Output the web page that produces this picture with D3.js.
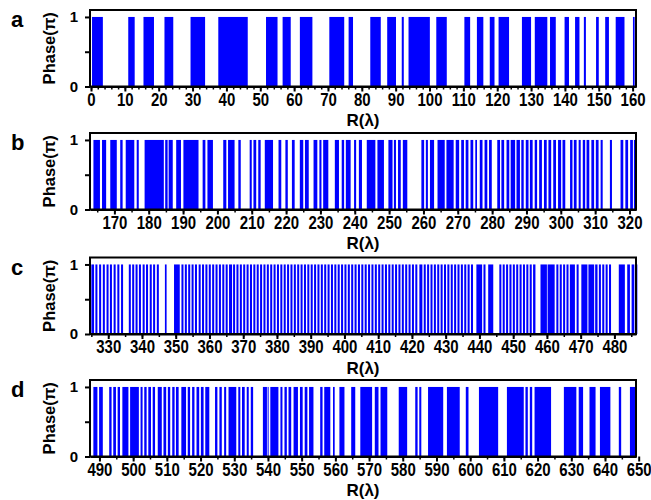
<!DOCTYPE html>
<html>
<head>
<meta charset="utf-8">
<script src="https://cdn.jsdelivr.net/npm/d3@7"></script>
<style>
  body { margin: 0; background: #fff; }
  text { font-family: "Liberation Sans", Arial, sans-serif; font-weight: bold; fill: #000; }
</style>
</head>
<body>
<div id="container"></div>
<script>
// intervals of R (in λ) where the phase is π
const phaseA = [[0.3,3.5],[11,12.9],[15.5,18.6],[21.7,24.3],[29.4,33.7],[37.6,46.3],[51.7,55.1],[56.6,59.0],[61.7,65.4],[70.4,74.8],[76.1,77.4],[82.5,85.6],[87.5,90.1],[91.8,92.4],[93.8,100.1],[102.0,105.1],[110.3,112.0],[114.0,115.9],[117.8,119.2],[120.4,123.5],[127.3,130.0],[131.1,134.8],[135.6,137.3],[139.9,141.2],[143.0,144.3],[145.6,146.2],[149.2,150.0],[151.9,153.0],[155.0,157.6],[160.1,160.6]];

const phaseB = [[163.9,165.8],[166.4,167.6],[168.8,170.7],[171.7,172.4],[173.3,175.8],[176.5,177.1],[178.8,184.4],[184.8,185.5],[185.8,187.0],[188.0,189.4],[190.1,194.5],[195.7,196.5],[197.1,198.7],[201.7,202.6],[203.1,205.0],[206.1,206.8],[209.4,210.0],[210.5,211.3],[211.9,212.6],[213.8,216.2],[217.8,218.6],[219.8,220.5],[221.7,222.5],[224.0,225.0],[225.5,226.6],[228.0,229.1],[229.7,230.3],[230.8,232.3],[234.2,235.4],[236.2,236.9],[237.4,238.8],[239.8,240.4],[241.2,242.1],[243.5,246.0],[246.6,248.5],[249.8,251.0],[251.4,252.0],[252.6,253.4],[254.0,255.3],[259.4,260.2],[260.7,261.3],[261.9,263.1],[264.1,266.2],[266.7,268.8],[269.4,270.4],[271.0,271.8],[272.3,273.1],[273.7,274.5],[275.1,275.6],[276.4,277.2],[277.8,278.6],[279.1,279.9],[281.5,282.3],[282.7,283.5],[284.2,285.0],[285.4,286.7],[287.1,288.1],[288.5,289.2],[289.8,290.6],[291.0,291.8],[292.4,293.1],[293.7,294.5],[295.1,295.9],[296.4,297.2],[297.8,298.6],[299.2,300.1],[300.5,301.3],[302.7,303.4],[303.8,304.6],[305.2,305.8],[306.4,307.1],[307.5,308.3],[308.9,309.7],[310.2,311.0],[311.6,312.2],[314.3,314.9],[317.4,318.2],[318.8,319.6],[320.2,321.0],[321.3,321.9]];

const phaseC = [[325.0,325.8],[326.2,326.8],[327.3,327.9],[328.4,329.0],[329.5,330.1],[330.5,331.1],[331.6,332.2],[332.7,333.3],[333.8,334.4],
  [336.1,336.7],[337.1,337.7],[338.1,338.7],[339.1,339.7],[340.2,340.8],[341.2,341.8],[342.3,342.9],[343.3,343.9],[344.4,345.0],
  [346.8,347.3],[349.5,351.2],
  [351.7,352.3],[352.7,353.3],[353.7,354.3],[354.7,355.3],[355.7,356.3],[356.8,357.4],[357.8,358.4],[358.8,359.4],[359.8,360.4],[360.8,361.4],
  [361.8,362.4],[362.8,363.4],[363.8,364.4],[364.8,365.4],[365.8,366.7],[367.0,367.6],[368.0,368.6],[369.0,369.6],[370.0,370.6],[371.0,371.6],
  [372.0,372.6],[373.0,373.6],[374.0,374.6],[375.0,375.6],[376.0,376.6],[377.0,377.6],[378.0,378.6],[379.0,379.6],[380.0,380.6],[381.0,381.6],
  [382.0,382.6],[383.0,383.6],[384.0,384.6],[385.0,385.6],[386.0,386.6],[387.0,387.6],[388.0,388.6],[389.0,389.6],[390.0,390.6],[391.0,391.6],
  [392.0,392.6],[393.0,393.6],[394.0,394.6],[395.0,395.6],[396.0,396.6],[397.0,397.6],[398.0,398.6],[399.0,399.6],[400.0,400.6],[401.0,401.6],
  [402.0,402.6],[403.0,403.6],[404.0,404.6],[405.0,405.6],[406.0,406.6],[407.0,407.6],[408.0,408.6],[409.0,409.6],[410.0,410.6],[411.0,411.6],
  [412.0,412.6],[413.0,413.6],[414.0,414.6],[415.0,415.6],[416.0,416.6],[417.0,417.6],[418.0,418.6],[419.0,419.6],[420.0,420.6],[421.0,421.6],
  [422.2,423.1],[423.5,424.1],[424.5,425.1],[425.5,426.1],[426.5,427.1],[427.5,428.1],[428.5,429.1],[429.5,430.1],[430.5,431.1],[431.5,432.1],
  [432.5,433.1],[433.5,434.1],[434.5,435.1],[435.5,436.1],[436.5,437.1],[437.5,438.1],[439.1,440.8],[441.2,441.8],[442.6,444.1],
  [445.9,446.5],[446.9,447.5],[447.9,448.5],[448.9,449.5],[449.9,450.5],[450.9,451.5],[451.9,452.5],[452.9,453.5],[453.9,454.5],[454.9,455.5],[455.9,456.6],
  [458.1,460.0],[460.2,462.3],
  [462.8,463.4],[463.8,464.4],[464.8,465.4],[465.8,466.4],[466.8,468.3],[468.8,469.4],[470.2,472.0],[472.3,474.0],[474.3,475.0],[475.4,476.0],
  [476.4,477.0],[477.4,478.0],[478.4,479.0],[481.3,483.1],[483.8,484.6],[485.1,485.9],[486.2,486.8]];

const phaseD = [[488.2,489.4],[489.9,491.0],[492.9,493.6],[494.1,494.9],[495.4,496.1],[496.8,498.6],[499.1,501.7],[502.2,502.8],[503.3,504.0],[504.5,505.3],
  [505.8,506.5],[507.3,508.5],[509.0,509.8],[510.3,511.0],[511.6,512.3],[512.7,513.5],[514.3,515.7],[516.2,516.9],[517.5,518.2],[518.8,519.6],
  [520.1,520.9],[521.4,522.6],[524.3,525.0],[525.6,526.3],[527.0,527.6],[528.3,530.6],[531.2,531.8],[532.3,533.1],[533.7,534.3],[534.9,535.6],
  [538.5,539.7],[539.9,540.2],[540.7,543.1],[543.7,544.3],[544.9,545.6],[546.1,546.9],[547.6,548.9],[549.5,550.3],[550.9,551.7],[552.2,553.5],
  [555.5,556.2],[556.7,558.5],[559.3,559.8],[561.2,562.7],[564.7,565.9],[567.4,570.9],[571.7,572.8],[573.4,575.4],[578.8,581.3],[583.7,584.4],
  [584.9,585.5],[587.5,592.0],[593.1,596.9],[598.7,599.5],[602.6,608.3],[610.9,615.9],[616.4,617.1],[617.7,618.4],[619.1,624.0],[627.8,631.5],
  [632.2,633.5],[635.4,637.2],[638.5,641.6],[644.1,644.8],[647.4,649.1]];

const ticksA = [0,10,20,30,40,50,60,70,80,90,100,110,120,130,140,150,160];
const ticksB = [170,180,190,200,210,220,230,240,250,260,270,280,290,300,310,320];
const ticksC = [330,340,350,360,370,380,390,400,410,420,430,440,450,460,470,480];
const ticksD = [490,500,510,520,530,540,550,560,570,580,590,600,610,620,630,640,650];
const letters = ["a", "b", "c", "d"];

const width = 651;
const height = 500;
const left = 90;
const right = 636;
const plotH = 76.5;

const panels = [
  { bars: phaseA, ticks: ticksA, domain: [-0.3, 161], minor: 2, top: 10 },
  { bars: phaseB, ticks: ticksB, domain: [162.9, 321.9], minor: 5, top: 133 },
  { bars: phaseC, ticks: ticksC, domain: [324.6, 486.4], minor: 5, top: 257.5 },
  { bars: phaseD, ticks: ticksD, domain: [487.2, 649.2], minor: 5, top: 380 }
];

const svg = d3.create("svg")
  .attr("width", width)
  .attr("height", height)
  .attr("viewBox", [0, 0, width, height]);

panels.forEach((p, i) => {
  const bottom = p.top + plotH;
  const x = d3.scaleLinear().domain(p.domain).range([left, right]);
  const y = d3.scaleLinear().domain([0, 1.1]).range([bottom, p.top]);
  const g = svg.append("g");

  g.append("g")
    .selectAll("rect")
    .data(p.bars)
    .join("rect")
    .attr("x", d => x(d[0]))
    .attr("width", d => x(d[1]) - x(d[0]))
    .attr("y", y(1))
    .attr("height", y(0) - y(1))
    .attr("fill", "#0000ff");

  // frame
  g.append("rect")
    .attr("x", left)
    .attr("y", p.top)
    .attr("width", right - left)
    .attr("height", plotH)
    .attr("fill", "none")
    .attr("stroke", "#000")
    .attr("stroke-width", 2);

  // minor ticks
  const minorVals = d3.range(Math.ceil(p.domain[0] / p.minor) * p.minor, p.domain[1], p.minor);
  g.append("g")
    .attr("transform", `translate(0,${bottom})`)
    .call(d3.axisBottom(x).tickValues(minorVals).tickSize(3).tickFormat(""))
    .call(a => a.select(".domain").remove())
    .selectAll("line").attr("stroke-width", 1.5);

  const xAxis = g.append("g")
    .attr("transform", `translate(0,${bottom})`)
    .call(d3.axisBottom(x).tickValues(p.ticks).tickSize(5).tickSizeOuter(0))
    .call(a => a.select(".domain").attr("stroke-width", 2));
  xAxis.selectAll("line").attr("stroke-width", 2);
  xAxis.selectAll("text")
    .attr("y", 0)
    .attr("dy", null)
    .attr("transform", "translate(0,19) scale(1,1.2)")
    .style("font-size", "15px");

  const yAxis = g.append("g")
    .attr("transform", `translate(${left},0)`)
    .call(d3.axisLeft(y).tickValues([0, 0.5, 1]).tickSize(5).tickPadding(7)
      .tickFormat(d => d === 0.5 ? "" : d3.format("d")(d)))
    .call(a => a.select(".domain").remove());
  yAxis.selectAll("line").attr("stroke-width", 2);
  yAxis.selectAll("text").style("font-size", "15px");

  g.append("text")
    .attr("transform", `translate(55,${p.top + plotH / 2}) rotate(-90)`)
    .attr("text-anchor", "middle")
    .style("font-size", "16.5px")
    .text("Phase(π)");

  g.append("text")
    .attr("x", (left + right) / 2)
    .attr("y", bottom + 39.5)
    .attr("text-anchor", "middle")
    .style("font-size", "17px")
    .text("R(λ)");

  g.append("text")
    .attr("x", 11)
    .attr("y", p.top + 17)
    .style("font-size", "22px")
    .text(letters[i]);
});

container.append(svg.node());
</script>
</body>
</html>
